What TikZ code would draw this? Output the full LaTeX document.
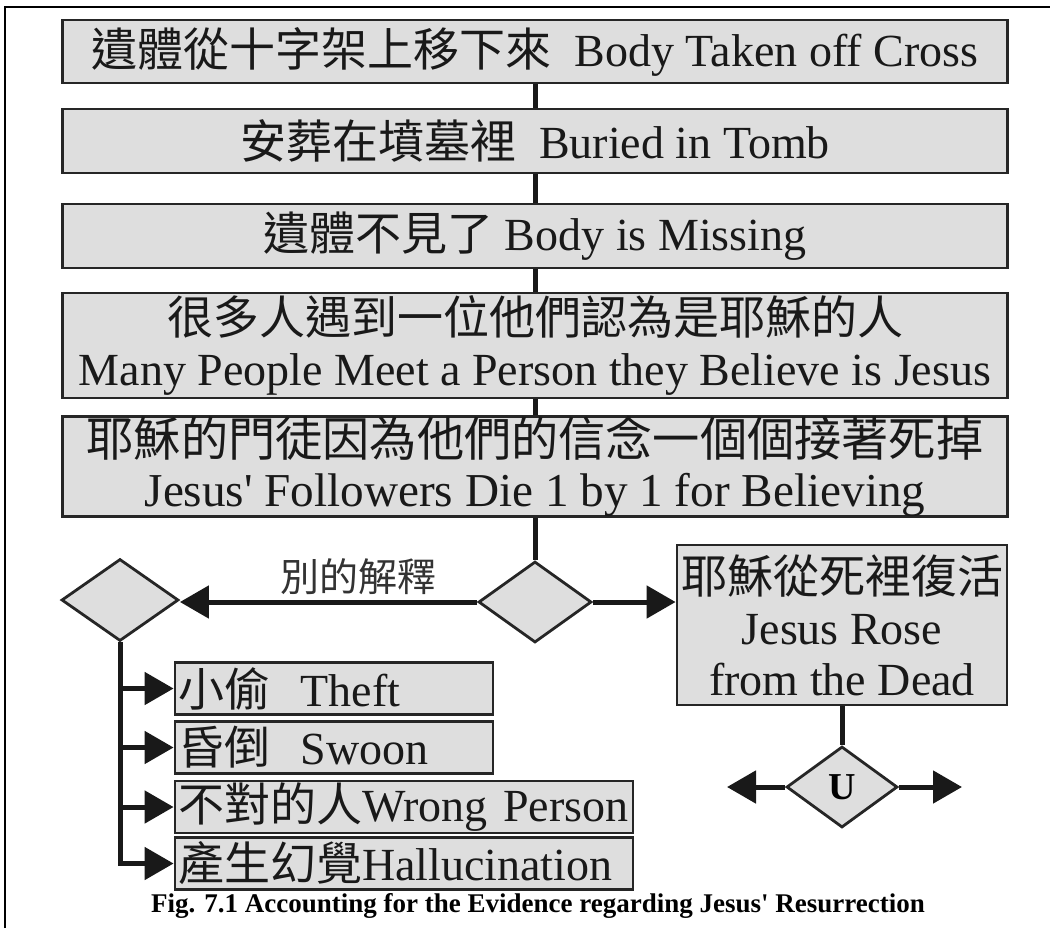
\documentclass[tikz,border=0pt]{standalone}
\usepackage{fontspec}
\setmainfont{Liberation Serif}
\newfontfamily\cjk{Noto Sans CJK TC}
\usetikzlibrary{shapes.geometric,arrows.meta}

\begin{document}
\begin{tikzpicture}[x=0.5pt,y=-0.5pt,
        box/.style={draw=black!85,line width=1.4pt,fill=black!13,inner sep=0pt,
            minimum width=472.5pt,text=black!90,align=center,
            font=\fontsize{23}{25.5}\selectfont},
        sidebox/.style={box,minimum width=0pt,minimum height=26pt,align=left,inner xsep=1.5pt},
        choice/.style={diamond,draw=black!85,line width=1.4pt,fill=black!13,inner sep=0pt},
        link/.style={line width=2.5pt,draw=black!90},
        arrowlink/.style={link,-{Triangle[length=14.5pt,width=16pt]}}]

    \useasboundingbox (0,0) rectangle (1050,928);
    \draw[line width=1pt] (5,928) -- (5,7) -- (1050,7);

    % main column of evidence
    \node[box,minimum height=31.5pt] (taken) at (535,51.5)
        {{\cjk 遺體從十字架上移下來}\ \ Body Taken off Cross};
    \node[box,minimum height=32pt] (buried) at (535,141)
        {{\cjk 安葬在墳墓裡}\ \ Buried in Tomb};
    \node[box,minimum height=32pt] (missing) at (535,236)
        {{\cjk 遺體不見了}\ Body is Missing};
    \node[box,minimum height=52.5pt] (meet) at (535,345.5)
        {{\cjk 很多人遇到一位他們認為是耶穌的人}\\Many People Meet a Person they Believe is Jesus};
    \node[box,minimum height=49.5pt,font=\fontsize{23.6}{25}\selectfont] (die) at (535,466.5)
        {{\cjk 耶穌的門徒因為他們的信念一個個接著死掉}\\Jesus\textquotesingle\ Followers Die 1 by 1 for Believing};

    \draw[link] (taken) -- (buried);
    \draw[link] (buried) -- (missing);
    \draw[link] (missing) -- (meet);
    \draw[link] (meet) -- (die);

    % the two ways
    \node[choice,minimum width=56.5pt,minimum height=40.5pt] (mid) at (535,602) {};
    \node[choice,minimum width=58.5pt,minimum height=41pt] (alt) at (120,600) {};
    \node[font=\cjk\fontsize{19.5}{19.5}\selectfont,text=black!80] (altlabel) at (358,577) {別的解釋};
    \node[box,minimum width=165pt,minimum height=80pt] (rose) at (842,625)
        {{\cjk 耶穌從死裡復活}\\Jesus Rose\\from the Dead};

    \draw[link] (die) -- (mid);
    \draw[arrowlink] (mid.west) -- (mid.west -| alt.east);
    \draw[arrowlink] (mid.east) -- (mid.east -| rose.west);

    % other explanations
    \node[sidebox,text width=156pt] (theft) at (334,688.5) {{\cjk 小偷}\ \ Theft};
    \node[sidebox,text width=156pt] (swoon) at (334,747.5) {{\cjk 昏倒}\ \ Swoon};
    \node[sidebox,text width=226pt] (wrong) at (404,807) {{\cjk 不對的人}Wrong Person};
    \node[sidebox,text width=226pt] (halluc) at (404,863.5) {{\cjk 產生幻覺}Hallucination};

    \draw[arrowlink] (alt.south) |- (halluc.west);
    \foreach \b in {theft,swoon,wrong}
        \draw[arrowlink] (alt.south |- \b.west) -- (\b.west);

    % U
    \node[choice,minimum width=55.5pt,minimum height=40.5pt,
        font=\bfseries\fontsize{19}{19}\selectfont] (u) at (842,787) {U};
    \coordinate (uleft) at (727,787);
    \coordinate (uright) at (962,787);
    \draw[link] (rose) -- (u);
    \draw[arrowlink] (u.west) -- (uleft);
    \draw[arrowlink] (u.east) -- (uright);

    \node[font=\bfseries\fontsize{13.5}{13.5}\selectfont] (caption) at (538,906)
        {Fig. 7.1 Accounting for the Evidence regarding Jesus\textquotesingle\ Resurrection};
\end{tikzpicture}
\end{document}
